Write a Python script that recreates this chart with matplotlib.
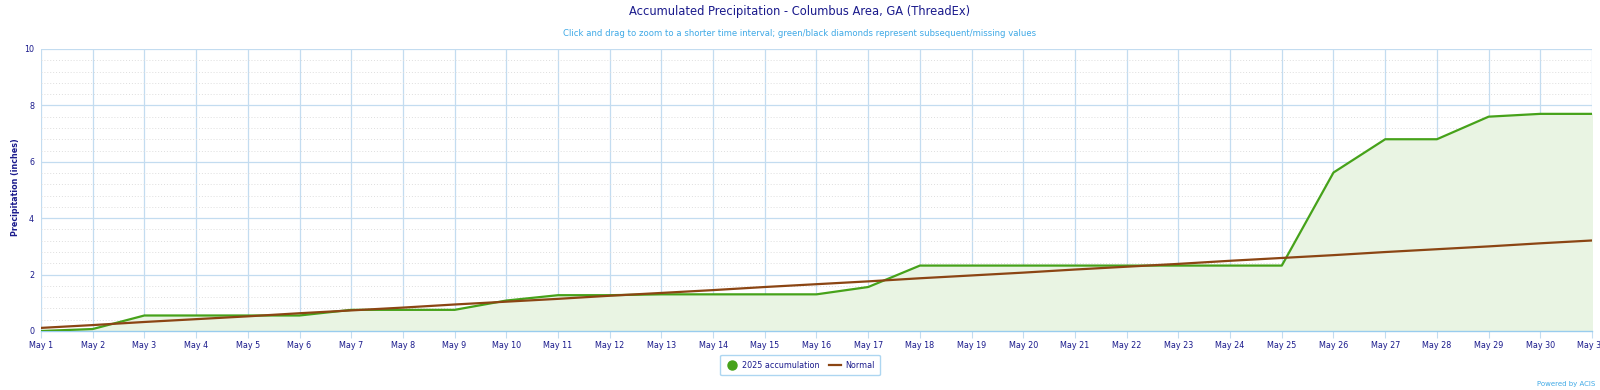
import matplotlib
matplotlib.use("Agg")
import matplotlib.pyplot as plt
from matplotlib.lines import Line2D
from matplotlib.ticker import MultipleLocator

days = list(range(1, 32))
day_labels = [f"May {d}" for d in days]
accum_2025 = [0.00, 0.07, 0.55, 0.55, 0.55, 0.55, 0.75, 0.75, 0.75, 1.08,
              1.27, 1.27, 1.30, 1.30, 1.30, 1.30, 1.56, 2.32, 2.32, 2.32,
              2.32, 2.32, 2.32, 2.32, 2.32, 5.62, 6.80, 6.80, 7.60, 7.70, 7.70]
normal = [0.11, 0.21, 0.32, 0.42, 0.52, 0.63, 0.73, 0.83, 0.94, 1.04,
          1.14, 1.25, 1.35, 1.45, 1.56, 1.66, 1.76, 1.87, 1.97, 2.07,
          2.18, 2.28, 2.38, 2.49, 2.59, 2.69, 2.80, 2.90, 3.00, 3.11, 3.21]

navy = "#1a1a8c"
grid_c = "#c3dcf0"
green = "#46a21a"
brown = "#8b4513"
fs = 5.8

fig = plt.figure(figsize=(16, 3.9), dpi=100)
ax = fig.add_axes([41/1600, 59/390, 1551/1600, 282/390])

ax.fill_between(days, accum_2025, 0, color="#e9f4e3", zorder=1)
ax.plot(days, accum_2025, color=green, lw=1.6, zorder=3)
ax.plot(days, normal, color=brown, lw=1.6, zorder=4)

ax.set_xlim(1, 31)
ax.set_ylim(0, 10)
ax.set_xticks(days)
ax.set_xticklabels(day_labels, fontsize=fs, color=navy)
ax.set_yticks([0, 2, 4, 6, 8, 10])
ax.yaxis.set_minor_locator(MultipleLocator(0.4))
ax.tick_params(axis="y", which="both", length=0, labelsize=fs, labelcolor=navy, pad=5)
ax.tick_params(axis="x", length=5, color=grid_c, labelsize=fs, pad=2)
ax.grid(True, which="major", color=grid_c, lw=0.9, zorder=0)
ax.grid(True, which="minor", axis="y", color="#dedede", lw=0.7, ls=(0, (1, 2)), zorder=0)
ax.set_axisbelow(True)
for s in ["top", "right", "left"]:
    ax.spines[s].set_visible(False)
ax.spines["bottom"].set_color("#99ccee")
ax.spines["bottom"].set_linewidth(1.0)

fig.text(16/1600, 1 - 187/390, "Precipitation (inches)", rotation=90, ha="center", va="center",
         fontsize=fs, color=navy, fontweight="bold")

fig.text(0.5, 1 - 12/390, "Accumulated Precipitation - Columbus Area, GA (ThreadEx)",
         ha="center", va="center", fontsize=8.3, color=navy)
fig.text(0.5, 1 - 33/390,
         "Click and drag to zoom to a shorter time interval; green/black diamonds represent subsequent/missing values",
         ha="center", va="center", fontsize=6.1, color="#3fa9e6")
fig.text(1 - 5/1600, 1 - 384/390, "Powered by ACIS", ha="right", va="center",
         fontsize=5, color="#3fa9e6")

handles = [Line2D([], [], marker="o", ls="none", color=green, markersize=6.5),
           Line2D([], [], color=brown, lw=1.6)]
leg = fig.legend(handles, ["2025 accumulation", "Normal"], loc="center",
                 bbox_to_anchor=(800/1600, 1 - 365/390), ncol=2, fontsize=fs,
                 frameon=True, fancybox=True, handlelength=1.5, columnspacing=1.2,
                 handletextpad=0.5, borderpad=0.7, borderaxespad=0)
for t in leg.get_texts():
    t.set_color(navy)
leg.get_frame().set_edgecolor("#99ccee")
leg.get_frame().set_linewidth(1.0)

fig.savefig("out.png", dpi=100)
